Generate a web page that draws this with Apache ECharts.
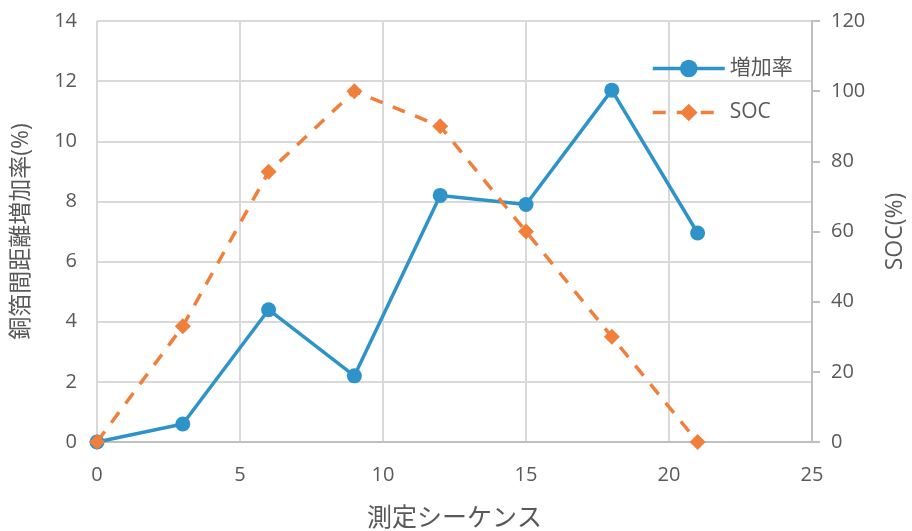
<!DOCTYPE html>
<html>
<head>
<meta charset="utf-8">
<script src="https://cdn.jsdelivr.net/npm/echarts@6/dist/echarts.min.js"></script>
<style>
html,body{margin:0;padding:0;background:#fff;}
#chart{width:912px;height:531px;}
</style>
</head>
<body>
<div id="chart"></div>
<script>
// measurement sequence steps
const sequence = [0, 3, 6, 9, 12, 15, 18, 21];
// copper foil gap increase rate (%), left axis
const increaseRate = [0, 0.6, 4.4, 2.2, 8.2, 7.9, 11.7, 6.95];
// state of charge (%), right axis
const soc = [0, 33, 77, 100, 90, 60, 30, 0];

const seriesNames = ['増加率', 'SOC'];
const xTitle = '測定シーケンス';
const yLeftTitle = '銅箔間距離増加率(%)';
const yRightTitle = 'SOC(%)';

const textColor = '#595959';
const fontFamily = '"Open Sans", "Noto Sans CJK JP", sans-serif';

const chart = echarts.init(document.getElementById('chart'));
chart.setOption({
  animation: false,
  backgroundColor: '#fff',
  textStyle: { fontFamily: fontFamily, color: textColor },
  grid: { left: 97, right: 100, top: 21, bottom: 89, outerBoundsMode: 'none', containLabel: false },
  legend: {
    orient: 'vertical',
    left: 646,
    top: 53,
    itemWidth: 72,
    itemHeight: 22,
    itemGap: 23,
    lineStyle: { width: 3.5 },
    textStyle: { fontSize: 21, color: textColor, fontFamily: fontFamily },
    data: seriesNames
  },
  xAxis: {
    type: 'value',
    min: 0, max: 25, interval: 5,
    name: xTitle,
    nameLocation: 'middle',
    nameGap: 64,
    nameTextStyle: { fontSize: 25, color: textColor },
    axisLine: { show: true, lineStyle: { color: '#bfbfbf', width: 2 } },
    axisTick: { show: false },
    axisLabel: { fontSize: 20, color: textColor, margin: 23 },
    splitLine: { show: true, lineStyle: { color: '#d9d9d9', width: 2 } }
  },
  yAxis: [
    {
      type: 'value',
      min: 0, max: 14, interval: 2,
      name: yLeftTitle,
      nameLocation: 'middle',
      nameGap: 64,
      nameRotate: 90,
      nameTextStyle: { fontSize: 23, color: textColor },
      axisLine: { show: false },
      axisTick: { show: false },
      axisLabel: { fontSize: 20, color: textColor, margin: 20 },
      splitLine: { show: true, lineStyle: { color: '#d9d9d9', width: 2 } }
    },
    {
      type: 'value',
      min: 0, max: 120, interval: 20,
      name: yRightTitle,
      nameLocation: 'middle',
      nameGap: 72,
      nameRotate: 90,
      nameTextStyle: { fontSize: 23, color: textColor },
      axisLine: { show: true, lineStyle: { color: '#bfbfbf', width: 2 } },
      axisTick: { show: true, inside: false, length: 8, lineStyle: { color: '#bfbfbf', width: 2 } },
      axisLabel: { fontSize: 20, color: textColor, margin: 19 },
      splitLine: { show: false }
    }
  ],
  series: [
    {
      name: seriesNames[0],
      type: 'line',
      yAxisIndex: 0,
      data: sequence.map((x, i) => [x, increaseRate[i]]),
      symbol: 'circle',
      symbolSize: 15,
      lineStyle: { color: '#2e93c9', width: 3.5 },
      itemStyle: { color: '#2e93c9' },
      z: 3
    },
    {
      name: seriesNames[1],
      type: 'line',
      yAxisIndex: 1,
      data: sequence.map((x, i) => [x, soc[i]]),
      symbol: 'diamond',
      symbolSize: 16,
      lineStyle: { color: '#f07f3c', width: 3.5, type: [13, 11] },
      itemStyle: { color: '#f07f3c' },
      z: 4
    }
  ]
});
</script>
</body>
</html>
